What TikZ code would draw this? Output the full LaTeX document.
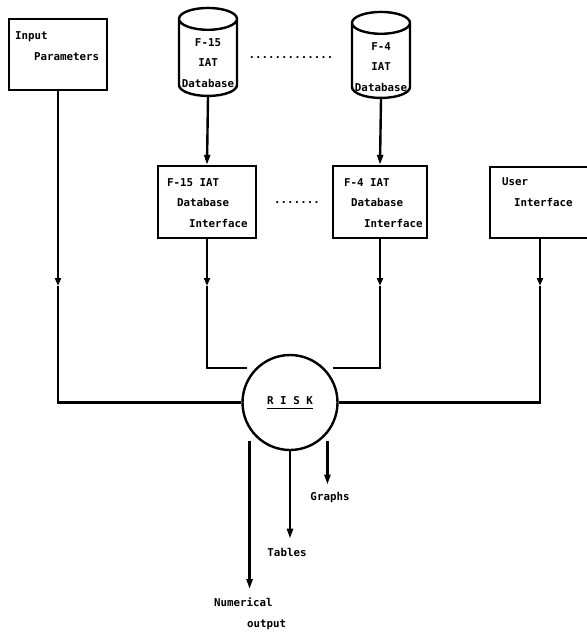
\documentclass[tikz,border=0pt]{standalone}
\usepackage{fontspec}
\setmonofont{DejaVu Sans Mono}
\usetikzlibrary{shapes.geometric,arrows.meta}
\begin{document}
\begin{tikzpicture}[x=1pt,y=-1pt,line width=2.4pt,
txt/.style={inner sep=0pt,font=\ttfamily\bfseries\fontsize{10.8}{20.5}\selectfont,align=left},
box/.style={draw,rectangle,inner sep=0pt},
db/.style={draw,cylinder,shape border rotate=90,aspect=0.42,inner sep=0pt,txt},
flow/.style={-{Triangle[length=10pt,width=6pt]}},
midflow/.style={-{Triangle[length=8pt,width=6pt]}}
]
\useasboundingbox (0,0) rectangle (586,634);
\coordinate (arrowrow) at (0,286);
\node[box,minimum width=98pt,minimum height=71pt] (input) at (58,54.5) {};
\node[txt,anchor=west] at (14,46) {Input\\\hspace*{19pt}Parameters};
\node[db,minimum height=88pt,minimum width=58pt] (f15db) at (208,58) {\phantom{Database}};
\node[txt,align=center] at (208,63) {F-15\\IAT\\Database};
\node[db,minimum height=86pt,minimum width=58pt] (f4db) at (381,61) {\phantom{Database}};
\node[txt,align=center] at (381,67) {F-4\\IAT\\Database};
\node[txt] (dotsdb) at (291,58) {.............};
\node[box,minimum width=98pt,minimum height=72pt] (f15if) at (207,202) {};
\node[txt,anchor=west] at (166,203) {F-15 IAT\\\hspace*{10pt}Database\\\hspace*{22pt}Interface};
\node[box,minimum width=94pt,minimum height=72pt] (f4if) at (380,202) {};
\node[txt,anchor=west] at (343,203) {F-4 IAT\\\hspace*{7pt}Database\\\hspace*{20pt}Interface};
\node[txt] (dotsif) at (297,203) {.......};
\node[box,minimum width=100pt,minimum height=71pt] (user) at (540,202.5) {};
\node[txt,anchor=west] at (501,192) {User\\\hspace*{12pt}Interface};
\node[draw,circle,minimum size=95pt,inner sep=0pt,txt] (risk) at (290,402.5) {\underline{\raisebox{0pt}[\height][3pt]{R I S K}}};
\node[txt] (graphs) at (330,498) {Graphs};
\node[txt] (tables) at (287,552) {Tables};
\node[txt,anchor=north west] (numerical) at (213,597) {Numerical\\\hspace*{33pt}output};
\draw[flow] (f15db.south) -- (f15if.north);
\draw[flow] (f4db.south) -- (f4if.north);
\draw[midflow] (input.south) -- (input.south |- arrowrow);
\draw (input.south |- arrowrow) |- (risk.west);
\draw[midflow] (user.south) -- (user.south |- arrowrow);
\draw (user.south |- arrowrow) |- (risk.east);
\draw[midflow] (f15if.south) -- (f15if.south |- arrowrow);
\draw (f15if.south |- arrowrow) |- ([shift={(-9,0)}]risk.north west);
\draw[midflow] (f4if.south) -- (f4if.south |- arrowrow);
\draw (f4if.south |- arrowrow) |- ([shift={(9,0)}]risk.north east);
\coordinate (numtop) at ([shift={(-6,4)}]risk.south west);
\coordinate (graphtop) at ([shift={(3,4)}]risk.south east);
\draw[flow,shorten >=8pt] (numtop) -- (numtop |- numerical.north);
\draw[flow,shorten >=8pt] (risk.south) -- (risk.south |- tables.north);
\draw[flow,shorten >=7pt] (graphtop) -- (graphtop |- graphs.north);
\end{tikzpicture}
\end{document}
